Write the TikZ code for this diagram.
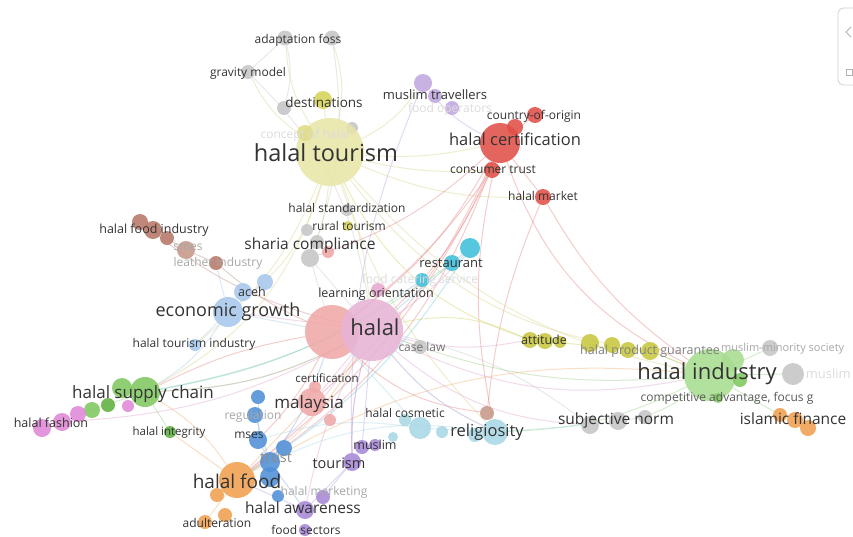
\documentclass[tikz,border=0pt]{standalone}
\usepackage{fontspec}
\setmainfont{Open Sans}
\pgfdeclarelayer{back}
\pgfdeclarelayer{bg}
\pgfsetlayers{back,bg,main}
% cluster colours
\definecolor{txt}{HTML}{333333}
\definecolor{fade}{HTML}{A8A8A8}
\definecolor{faint}{HTML}{DCDCDC}
\definecolor{cTour}{HTML}{E8E6A8}
\definecolor{cDest}{HTML}{D8D458}
\definecolor{cYel}{HTML}{E0DC88}
\definecolor{cGray}{HTML}{C6C6C6}
\definecolor{cPurL}{HTML}{C0A8E0}
\definecolor{cRed}{HTML}{E05048}
\definecolor{cSal}{HTML}{F0A8A8}
\definecolor{cPink}{HTML}{E6B4D6}
\definecolor{cPinkD}{HTML}{E8A8D0}
\definecolor{cBrown}{HTML}{B87868}
\definecolor{cBrownL}{HTML}{C89888}
\definecolor{cLBlue}{HTML}{A8C8EC}
\definecolor{cCyan}{HTML}{40C0DC}
\definecolor{cLCyan}{HTML}{A8D8E4}
\definecolor{cOlive}{HTML}{C8C840}
\definecolor{cGreenL}{HTML}{A8DC90}
\definecolor{cGreen}{HTML}{80C860}
\definecolor{cGreenD}{HTML}{60B040}
\definecolor{cOrange}{HTML}{F0A050}
\definecolor{cBlue}{HTML}{5090D8}
\definecolor{cPur}{HTML}{A888D8}
\definecolor{cFash}{HTML}{E088D8}
% link colours
\definecolor{lY}{HTML}{D8D488}
\definecolor{lR}{HTML}{E88080}
\definecolor{lP}{HTML}{E0A0D0}
\definecolor{lB}{HTML}{A8C8E8}
\definecolor{lG}{HTML}{98D080}
\definecolor{lC}{HTML}{70C8DC}
\definecolor{lLC}{HTML}{A8D8E4}
\definecolor{lPu}{HTML}{B8A0E0}
\definecolor{lO}{HTML}{F0B070}
\definecolor{lBl}{HTML}{80A8E0}
\definecolor{lBr}{HTML}{C09080}
\definecolor{lOl}{HTML}{D0D060}
\definecolor{lGr}{HTML}{C8C8C8}
\tikzset{
  bub/.style={circle, inner sep=0pt, draw=none, fill opacity=0.88},
  lab/.style={text=txt, inner sep=0pt, font=\fontsize{#1}{#1}\selectfont},
  link/.style={line width=1pt, draw opacity=0.4},
}
\newcommand\vn[5]{\node[bub, fill=#5, minimum size=#4pt] (#1) at (#2,#3) {};}
\begin{document}
\begin{tikzpicture}[x=1pt,y=-1pt]
\useasboundingbox (0,0) rectangle (853,536);
\begin{pgfonlayer}{back}
\fill[white] (0,0) rectangle (853,536);
\end{pgfonlayer}

% ---- bubbles ----
\vn{af1}{285}{38}{15}{cGray}
\vn{af2}{332}{38}{15}{cGray}
\vn{gm}{248}{72}{14}{cGray}
\vn{dg}{284}{108}{14}{cGray}
\vn{tg}{352}{128}{12}{cGray}
\vn{ht}{330}{152}{68}{cTour}
\vn{dst}{323}{100}{18}{cDest}
\vn{ty1}{305}{133}{16}{cYel}
\vn{rt}{348}{226}{10}{cDest}
\vn{mt1}{423}{83}{18}{cPurL}
\vn{mt2}{435}{96}{14}{cPurL}
\vn{fo}{452}{108}{14}{cPurL}
\vn{hc}{500}{143}{40}{cRed}
\vn{co1}{535}{115}{16}{cRed}
\vn{co2}{515}{127}{16}{cRed}
\vn{ct}{492}{170}{16}{cRed}
\vn{hm}{543}{197}{16}{cRed}
\vn{rs}{328}{252}{12}{cSal}
\vn{sc1}{310}{258}{18}{cGray}
\vn{sc2}{317}{242}{14}{cGray}
\vn{sc3}{307}{230}{12}{cGray}
\vn{hst}{347}{210}{12}{cGray}
\vn{bf1}{140}{222}{16}{cBrown}
\vn{bf2}{153}{230}{18}{cBrown}
\vn{bf3}{167}{238}{14}{cBrown}
\vn{sm}{186}{250}{18}{cBrownL}
\vn{li}{216}{263}{14}{cBrown}
\vn{ac1}{265}{282}{16}{cLBlue}
\vn{ac2}{243}{292}{18}{cLBlue}
\vn{eg}{228}{312}{30}{cLBlue}
\vn{hti}{195}{345}{12}{cLBlue}
\vn{rst1}{470}{248}{20}{cCyan}
\vn{rst2}{452}{263}{16}{cCyan}
\vn{fs}{422}{280}{14}{cCyan}
\vn{lo}{378}{290}{14}{cPinkD}
\vn{hsa}{332}{332}{54}{cSal}
\vn{hp}{372}{330}{62}{cPink}
\vn{cl}{420}{347}{14}{cGray}
\vn{at1}{530}{340}{16}{cOlive}
\vn{at2}{545}{341}{16}{cOlive}
\vn{at3}{560}{342}{12}{cOlive}
\vn{pg1}{590}{343}{18}{cOlive}
\vn{pg2}{612}{345}{16}{cOlive}
\vn{pg3}{628}{350}{16}{cOlive}
\vn{pg4}{650}{351}{18}{cOlive}
\vn{hi}{710}{375}{52}{cGreenL}
\vn{hi2}{733}{360}{22}{cGreenL}
\vn{hi3}{740}{380}{14}{cGreen}
\vn{ca}{718}{398}{10}{cGreen}
\vn{mm}{770}{348}{16}{cGray}
\vn{mg}{793}{374}{22}{cGray}
\vn{if1}{780}{415}{14}{cOrange}
\vn{if2}{795}{420}{16}{cOrange}
\vn{if3}{808}{428}{16}{cOrange}
\vn{sn1}{590}{425}{18}{cGray}
\vn{sn2}{618}{421}{18}{cGray}
\vn{sn3}{645}{417}{14}{cGray}
\vn{relb}{487}{413}{14}{cBrownL}
\vn{rel}{495}{432}{26}{cLCyan}
\vn{rel2}{475}{435}{14}{cLCyan}
\vn{hcs1}{420}{428}{22}{cLCyan}
\vn{hcs2}{405}{420}{12}{cLCyan}
\vn{hcs3}{442}{432}{12}{cLCyan}
\vn{hcs4}{393}{437}{10}{cLCyan}
\vn{my}{312}{402}{28}{cSal}
\vn{cert}{315}{387}{12}{cSal}
\vn{hl}{330}{420}{12}{cSal}
\vn{hsc}{145}{392}{30}{cGreen}
\vn{hsc2}{122}{388}{20}{cGreen}
\vn{hsc3}{108}{405}{14}{cGreenD}
\vn{hsc4}{92}{410}{16}{cGreen}
\vn{hin}{170}{432}{12}{cGreenD}
\vn{fa1}{62}{422}{18}{cFash}
\vn{fa2}{42}{428}{18}{cFash}
\vn{fa3}{78}{414}{16}{cFash}
\vn{fa4}{128}{406}{12}{cFash}
\vn{hf}{237}{480}{36}{cOrange}
\vn{hf2}{217}{495}{14}{cOrange}
\vn{hf3}{225}{515}{14}{cOrange}
\vn{adu}{205}{522}{14}{cOrange}
\vn{b1}{258}{397}{14}{cBlue}
\vn{reg}{255}{415}{16}{cBlue}
\vn{ms}{258}{440}{18}{cBlue}
\vn{tr1}{270}{462}{20}{cBlue}
\vn{tr2}{284}{448}{16}{cBlue}
\vn{tr3}{270}{477}{20}{cBlue}
\vn{tr4}{278}{496}{12}{cBlue}
\vn{tou}{352}{462}{18}{cPur}
\vn{mu1}{362}{447}{14}{cPur}
\vn{mu2}{375}{445}{12}{cPur}
\vn{hmk}{323}{497}{14}{cPur}
\vn{ha}{305}{510}{18}{cPur}
\vn{fse}{305}{530}{12}{cPur}

% ---- links ----
\begin{pgfonlayer}{bg}
\foreach \a/\b/\c/\k in {
  ht/af1/lY/14, ht/af2/lY/-14, ht/gm/lY/14, ht/dst/lY/0, ht/mt1/lY/-14,
  ht/hc/lY/-8, ht/hp/lY/8, ht/sc1/lY/8, ht/eg/lY/18, ht/hi/lY/-18,
  ht/ct/lY/-8, ht/pg4/lY/-22, ht/hm/lY/-12, ht/hsc/lY/22, ht/rel/lY/-12,
  ht/hti/lY/14, af1/gm/lGr/0, af1/dg/lGr/14, af2/sc1/lGr/14, gm/hp/lGr/18,
  mt1/tou/lPu/-12, mt1/hc/lPu/-12, hc/ct/lR/0, hc/co1/lR/0, hc/hm/lR/0,
  hc/hp/lR/12, hc/hi/lR/-22, hc/rel/lR/-12, hc/my/lR/12, hc/hf/lR/18,
  hc/sc1/lR/12, hc/hsa/lR/12, hm/hi/lR/-12, hm/relb/lR/-8, ct/hsa/lR/8,
  ct/hf/lR/12, hp/hsc/lP/12, hp/fa1/lP/12, hp/my/lP/0, hp/tou/lP/-8,
  hp/rel/lP/-12, hp/hi/lP/-18, hp/at1/lP/-12, hp/rst1/lP/-8, hp/eg/lP/0,
  hp/hf/lP/8, hp/ha/lP/-8, hp/sn1/lP/-18, hsa/hsc/lR/-8, hsa/ms/lR/8,
  hsa/relb/lR/-18, eg/ac1/lB/0, eg/hti/lB/0, eg/hsc/lB/12, eg/hsa/lB/0,
  eg/li/lB/0, hi/hp/lG/12, hi/pg4/lG/0, hi/mm/lG/0, hi/if1/lG/0,
  hi/sn3/lG/8, hi/mg/lG/0, hi/rel/lG/12, hsc/hp/lG/-12, hsc/hin/lG/0,
  hsc/fa3/lG/0, hsc/rst2/lG/-12, rst1/hp/lC/0, rst1/hf/lC/12, fs/hsc/lC/12,
  rel/hcs1/lLC/0, rel/sn1/lLC/0, rel/hf/lLC/-18, rel/hp/lLC/12,
  hcs1/hsa/lLC/0, hcs1/ms/lLC/-12, tou/mu1/lPu/0, tou/ha/lPu/0,
  tou/hmk/lPu/0, tou/hp/lPu/8, mu1/hp/lPu/0, ha/hf/lPu/0, hf/adu/lO/0,
  hf/hin/lO/0, hf/hsc/lO/-12, hf/hp/lO/-12, hf/my/lO/0, hf/hi/lO/18,
  tr1/ms/lBl/0, tr1/reg/lBl/0, tr1/hsa/lBl/-8, tr1/ha/lBl/0, ms/b1/lBl/0,
  bf1/sm/lBr/0, sm/li/lBr/0, li/hsa/lBr/-8, bf1/hp/lBr/-12, at1/hp/lOl/-18,
  at1/pg4/lOl/0, pg4/hi/lOl/0, at1/ht/lOl/22, cl/hp/lGr/0, sn1/sn3/lGr/0,
  sn1/hp/lGr/-12, sc1/hp/lGr/0, sc1/hsa/lGr/0}
  \draw[link, \c] (\a) to[bend left=\k] (\b);
\end{pgfonlayer}

% ---- labels ----
\node[lab=12] (t1) at (298,40) {adaptation foss};
\node[lab=12] (t2) at (248,73) {gravity model};
\node[lab=13.5] (t3) at (324,102) {destinations};
\node[lab=13] (t4) at (435,95) {muslim travellers};
\node[lab=12, text=faint] (t5) at (450,109) {food operators};
\node[lab=12, text=faint] (t6) at (305,135) {concept of halal};
\node[lab=23.5] (t7) at (326,153) {halal tourism};
\node[lab=12] (t8) at (534,116) {country-of-origin};
\node[lab=16.5] (t9) at (515,139) {halal certification};
\node[lab=12] (t10) at (493,170) {consumer trust};
\node[lab=12] (t11) at (543,196) {halal market};
\node[lab=12] (t12) at (347,208) {halal standardization};
\node[lab=12] (t13) at (349,226) {rural tourism};
\node[lab=15.5] (t14) at (310,245) {sharia compliance};
\node[lab=12.5] (t15) at (154,230) {halal food industry};
\node[lab=12, text=fade] (t16) at (188,247) {smes};
\node[lab=12, text=fade] (t17) at (218,263) {leather industry};
\node[lab=13] (t18) at (451,263) {restaurant};
\node[lab=12, text=faint] (t19) at (420,280) {food catering service};
\node[lab=12.5] (t20) at (252,292) {aceh};
\node[lab=12.5] (t21) at (376,294) {learning orientation};
\node[lab=18] (t22) at (228,312) {economic growth};
\node[lab=22] (t23) at (375,327) {halal};
\node[lab=12] (t24) at (194,344) {halal tourism industry};
\node[lab=12, text=black!55] (t25) at (422,347) {case law};
\node[lab=12.5] (t26) at (544,340) {attitude};
\node[lab=12.5, text=black!50] (t28) at (650,351) {halal product guarantee};
\node[lab=11, text=fade, anchor=west] (t27) at (721,349) {muslim-minority society};
\node[lab=22] (t29) at (707,374) {halal industry};
\node[lab=13, text=faint, anchor=east] (t30) at (851,374) {muslim};
\node[lab=12, text=black!65] (t31) at (727,398) {competitive advantage, focus g};
\node[lab=15.5] (t32) at (793,419) {islamic finance};
\node[lab=15.5] (t33) at (616,420) {subjective norm};
\node[lab=16.5] (t34) at (487,432) {religiosity};
\node[lab=12] (t35) at (405,413) {halal cosmetic};
\node[lab=17] (t36) at (143,394) {halal supply chain};
\node[lab=12.5] (t37) at (51,423) {halal fashion};
\node[lab=11.5] (t38) at (169,433) {halal integrity};
\node[lab=11.5] (t39) at (327,378) {certification};
\node[lab=17] (t40) at (309,404) {malaysia};
\node[lab=12, text=fade] (t41) at (253,416) {regulation};
\node[lab=12] (t42) at (249,435) {mses};
\node[lab=12.5] (t43) at (375,445) {muslim};
\node[lab=14.5, text=black!45] (t44) at (276,458) {trust};
\node[lab=14.5] (t45) at (339,463) {tourism};
\node[lab=19] (t46) at (237,481) {halal food};
\node[lab=12, text=fade] (t47) at (324,492) {halal marketing};
\node[lab=15.5] (t48) at (303,508) {halal awareness};
\node[lab=12] (t49) at (217,523) {adulteration};
\node[lab=12] (t50) at (306,530) {food sectors};

% ---- side panel ----
\draw[black!18, line width=0.8pt, rounded corners=6pt] (870,8) -- (838,8) -- (838,85) -- (870,85);
\draw[black!30, line width=0.8pt] (851,27) -- (846,32) -- (851,37);
\draw[black!30, line width=0.7pt] (846,69) rectangle (852,75);
\end{tikzpicture}
\end{document}
